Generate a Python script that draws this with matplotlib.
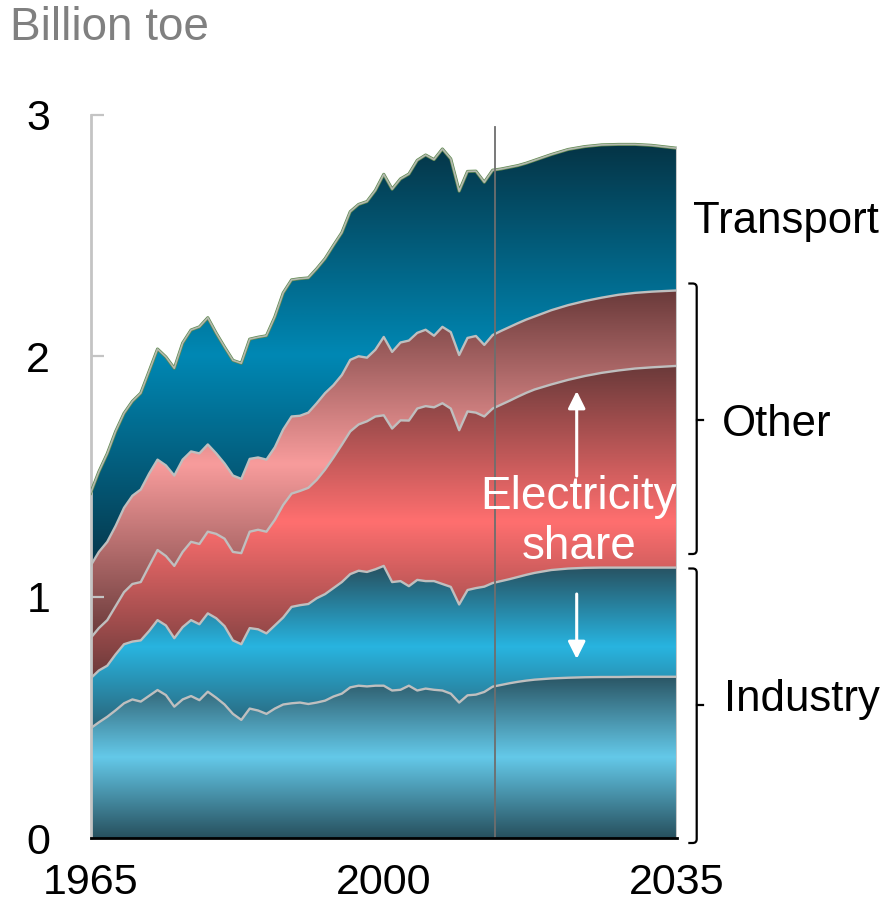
import numpy as np
import matplotlib
matplotlib.use("Agg")
import matplotlib.pyplot as plt
from matplotlib.colors import LinearSegmentedColormap
from matplotlib.path import Path
from matplotlib.patches import PathPatch

# ---------------- data (Billion toe, cumulative layer tops) ----------------
years = list(range(1965, 2019)) + [2020, 2022, 2024, 2026, 2028, 2030, 2032, 2035]

industry_base_top = [
    0.455, 0.480, 0.503, 0.530, 0.559, 0.575, 0.566, 0.590, 0.614, 0.593,
    0.545, 0.575, 0.589, 0.572, 0.607, 0.582, 0.554, 0.515, 0.490, 0.537,
    0.529, 0.515, 0.537, 0.554, 0.559, 0.562, 0.556, 0.562, 0.570, 0.587,
    0.599, 0.625, 0.632, 0.629, 0.632, 0.632, 0.612, 0.615, 0.632, 0.612,
    0.620, 0.615, 0.612, 0.599, 0.562, 0.592, 0.595, 0.606, 0.628,
    0.635, 0.642, 0.648, 0.653, 0.657,
    0.662, 0.665, 0.667, 0.668, 0.668, 0.669, 0.669, 0.669]

industry_top = [
    0.662, 0.695, 0.715, 0.762, 0.804, 0.815, 0.820, 0.859, 0.904, 0.882,
    0.829, 0.875, 0.904, 0.887, 0.932, 0.912, 0.879, 0.820, 0.804, 0.871,
    0.866, 0.849, 0.882, 0.915, 0.959, 0.966, 0.971, 0.995, 1.012, 1.037,
    1.062, 1.095, 1.109, 1.104, 1.115, 1.129, 1.062, 1.066, 1.045, 1.071,
    1.066, 1.066, 1.054, 1.042, 0.969, 1.029, 1.037, 1.043, 1.058,
    1.066, 1.074, 1.083, 1.092, 1.100,
    1.112, 1.118, 1.121, 1.122, 1.122, 1.122, 1.122, 1.122]

other_base_top = [
    0.829, 0.871, 0.904, 0.962, 1.020, 1.054, 1.062, 1.129, 1.195, 1.170,
    1.129, 1.187, 1.229, 1.220, 1.271, 1.262, 1.242, 1.187, 1.182, 1.271,
    1.279, 1.271, 1.320, 1.382, 1.429, 1.440, 1.453, 1.486, 1.529, 1.579,
    1.632, 1.687, 1.716, 1.729, 1.749, 1.754, 1.699, 1.733, 1.732, 1.782,
    1.792, 1.787, 1.804, 1.782, 1.692, 1.770, 1.765, 1.749, 1.782,
    1.798, 1.814, 1.831, 1.847, 1.861,
    1.882, 1.901, 1.917, 1.930, 1.940, 1.948, 1.953, 1.959]

other_top = [
    1.129, 1.187, 1.229, 1.295, 1.370, 1.420, 1.446, 1.512, 1.570, 1.546,
    1.504, 1.570, 1.604, 1.596, 1.633, 1.596, 1.554, 1.504, 1.490, 1.573,
    1.579, 1.570, 1.621, 1.695, 1.749, 1.752, 1.765, 1.804, 1.846, 1.879,
    1.921, 1.984, 1.999, 1.993, 2.026, 2.079, 2.017, 2.056, 2.064, 2.096,
    2.109, 2.084, 2.121, 2.099, 2.004, 2.075, 2.083, 2.046, 2.087,
    2.104, 2.120, 2.136, 2.151, 2.164,
    2.190, 2.211, 2.228, 2.242, 2.254, 2.262, 2.267, 2.272]

transport_top = [
    1.430, 1.520, 1.595, 1.687, 1.762, 1.812, 1.846, 1.937, 2.029, 1.996,
    1.949, 2.054, 2.108, 2.121, 2.159, 2.095, 2.037, 1.982, 1.970, 2.070,
    2.078, 2.084, 2.162, 2.262, 2.316, 2.321, 2.324, 2.362, 2.404, 2.459,
    2.512, 2.599, 2.629, 2.641, 2.687, 2.754, 2.692, 2.735, 2.755, 2.812,
    2.834, 2.815, 2.859, 2.818, 2.684, 2.766, 2.767, 2.721, 2.771,
    2.776, 2.783, 2.790, 2.800, 2.812,
    2.836, 2.857, 2.869, 2.876, 2.878, 2.878, 2.874, 2.862]

x_ticks = [1965, 2000, 2035]
y_ticks = [0, 1, 2, 3]
projection_start = 2013.3

# ---------------- style ----------------
plt.rcParams['font.family'] = ['Liberation Sans', 'DejaVu Sans']

layer_colors = [  # (bottom edge, middle, top edge)
    ("#27505e", "#64c9e9", "#2a5564"),
    ("#2a6478", "#28b4e0", "#27505f"),
    ("#6b3a3a", "#ff6f6f", "#6a3a3a"),
    ("#6a3a3a", "#f89c9c", "#6a3a3a"),
    ("#06374b", "#0088b4", "#053446"),
]

W, H = 893, 907
fig = plt.figure(figsize=(W / 100, H / 100), dpi=100)
x0, x1, y0, y1 = 90.5, 677, 838, 115
ax = fig.add_axes([x0 / W, (H - y0) / H, (x1 - x0) / W, (y0 - y1) / H])

bounds = [np.zeros(len(years)), np.array(industry_base_top), np.array(industry_top),
          np.array(other_base_top), np.array(other_top), np.array(transport_top)]

grad = np.linspace(0, 1, 600).reshape(-1, 1)
for i in range(5):
    lo, hi = bounds[i], bounds[i + 1]
    coll = ax.fill_between(years, lo, hi, facecolor='none', edgecolor='none', lw=0)
    ymin, ymax = lo.min(), hi.max()
    c0, c1, c2 = layer_colors[i]
    cmap = LinearSegmentedColormap.from_list(f"l{i}", [(0, c0), (0.5, c1), (1, c2)])
    im = ax.imshow(grad, extent=[years[0], years[-1], ymin, ymax], origin='lower',
                   aspect='auto', cmap=cmap, interpolation='bilinear', zorder=0.5)
    im.set_clip_path(coll.get_paths()[0], transform=ax.transData)

for b in bounds[1:5]:
    ax.plot(years, b, color='#bfbfbf', lw=1.7, zorder=3, solid_joinstyle='round')
ax.plot(years, bounds[5], color='#5f8a4f', lw=2.2, zorder=3)
ax.plot(years, bounds[5], color='#b4b8b0', lw=1.2, zorder=3.1)
ax.plot([years[-1], years[-1]], [0, bounds[5][-1]], color='#c8c8c8', lw=1.5, zorder=3)

ax.plot([projection_start] * 2, [0, 2.95], color='#6e6e6e', lw=1.3, zorder=4)

ax.set_xlim(1965, 2035)
ax.set_ylim(0, 3)

for s in ['top', 'right']:
    ax.spines[s].set_visible(False)
ax.spines['left'].set_color('#c4c4c4')
ax.spines['left'].set_linewidth(2.0)
ax.spines['bottom'].set_color('black')
ax.spines['bottom'].set_linewidth(2.0)
ax.spines['bottom'].set_zorder(5)

ax.set_yticks(y_ticks)
ax.set_yticklabels([str(v) for v in y_ticks])
ax.tick_params(axis='y', direction='in', length=9.5, width=1.6, color='#c4c4c4',
               labelsize=31, pad=29)
ax.yaxis.get_major_ticks()[0].tick1line.set_visible(False)
ax.set_xticks(x_ticks)
ax.set_xticklabels([str(v) for v in x_ticks])
ax.tick_params(axis='x', length=0, labelsize=31, pad=18)

fig.text(10 / W, 1 - 6 / H, 'Billion toe', color='#808080', fontsize=33, va='top', ha='left')

def px2yr(px):
    return 1965 + (px - x0) * 70 / (x1 - x0)

def py2v(py):
    return (y0 - py) * 3 / (y0 - y1)

ax.text(px2yr(693), py2v(222), 'Transport', fontsize=31.5, va='center', ha='left', clip_on=False)
ax.text(px2yr(722), py2v(425), 'Other', fontsize=31.5, va='center', ha='left', clip_on=False)
ax.text(px2yr(724), py2v(700), 'Industry', fontsize=31.5, va='center', ha='left', clip_on=False)

def bracket(top, bot, mid):
    xv, xe, xt = 696.7, 688.3, 703
    r = 4
    verts = [(xe, top), (xv - r, top), (xv, top), (xv, top + r), (xv, bot - r), (xv, bot), (xv - r, bot), (xe, bot)]
    codes = [Path.MOVETO, Path.LINETO, Path.CURVE3, Path.CURVE3, Path.LINETO, Path.CURVE3, Path.CURVE3, Path.LINETO]
    verts = [(px2yr(a), py2v(b)) for a, b in verts]
    ax.add_patch(PathPatch(Path(verts, codes), fill=False, lw=1.6, color='black', clip_on=False))
    ax.plot([px2yr(xv), px2yr(xt)], [py2v(mid)] * 2, color='black', lw=1.6, clip_on=False)

bracket(283.5, 554, 420)
bracket(568.5, 843, 705)

ax.text(px2yr(579), py2v(497), 'Electricity', fontsize=33, color='white', ha='center', va='center', zorder=6)
ax.text(px2yr(579), py2v(547), 'share', fontsize=33, color='white', ha='center', va='center', zorder=6)
ax.annotate('', xy=(px2yr(576.7), py2v(391)), xytext=(px2yr(576.7), py2v(476)),
            arrowprops=dict(arrowstyle='-|>', color='white', lw=2.2, mutation_scale=26, shrinkA=0, shrinkB=0), zorder=6)
ax.annotate('', xy=(px2yr(576.7), py2v(659)), xytext=(px2yr(576.7), py2v(594)),
            arrowprops=dict(arrowstyle='-|>', color='white', lw=2.2, mutation_scale=26, shrinkA=0, shrinkB=0), zorder=6)

fig.savefig('out.png', dpi=100)
